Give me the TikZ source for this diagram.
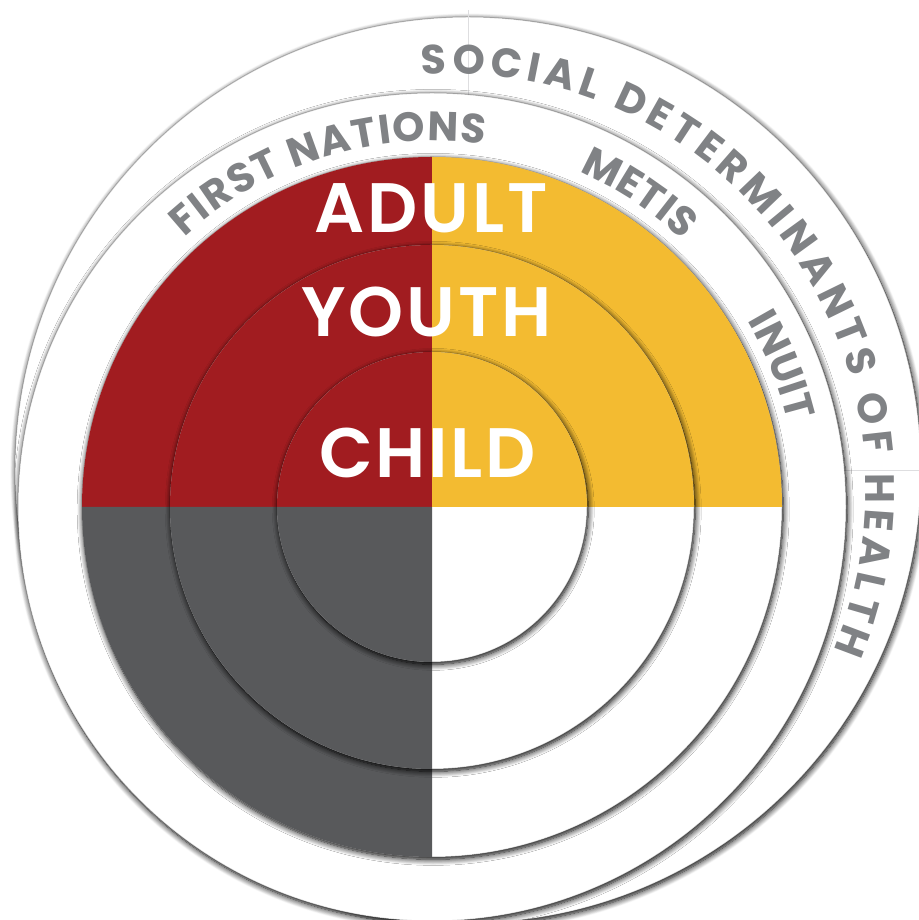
\documentclass[tikz,border=0pt]{standalone}
\usepackage{fontspec}
\setmainfont{Poppins}
\newfontfamily\semib{Poppins SemiBold}[LetterSpace=4]
\newfontfamily\boldp{Poppins Bold}
\usetikzlibrary{shadows.blur,decorations.text}
\definecolor{wred}{RGB}{161,28,32}
\definecolor{wyel}{RGB}{243,187,49}
\definecolor{wgray}{RGB}{88,89,91}
\definecolor{tgray}{RGB}{128,130,133}
\definecolor{seamc}{RGB}{222,222,224}
\tikzset{
  sh/.style={draw=black, draw opacity=0.22, line width=1pt, blur shadow={shadow xshift=1.2pt, shadow yshift=-2.4pt, shadow blur radius=6pt, shadow blur steps=10, shadow opacity=100}},
  lbl/.style={text=white, font=\semib\fontsize{70}{70}\selectfont, inner sep=0pt, anchor=base},
  curv/.style={decorate, decoration={text along path, text align={fit to path}, text color=tgray, text={|\boldp\fontsize{41}{41}\selectfont|#1}}},
}
\newcommand{\wheeldisc}[1]{%
  \path[fill=white, sh] (C) circle[radius=#1];
  \fill[wred] (C) -- ++(0,#1) arc[start angle=90, end angle=180, radius=#1] -- cycle;
  \fill[wyel] (C) -- ++(#1,0) arc[start angle=0, end angle=90, radius=#1] -- cycle;
  \fill[wgray] (C) -- ++(-#1,0) arc[start angle=180, end angle=270, radius=#1] -- cycle;
}
\begin{document}
\begin{tikzpicture}[x=1pt,y=1pt]
\useasboundingbox (0,0) rectangle (918,920);
\coordinate (R2) at (468,450);
\coordinate (C) at (432,413);
\coordinate (T) at (450,430);
% outer ring (social determinants)
\path[fill=white, sh] (R2) circle[radius=453pt];
\draw[seamc, line width=0.8pt] (R2) -- ++(0,460pt);
\draw[seamc, line width=0.8pt] (R2) -- ++(460pt,0);
% second ring (first nations / metis / inuit)
\path[fill=white, sh] (C) circle[radius=414pt];
% wheel
\wheeldisc{350pt}
\wheeldisc{262pt}
\wheeldisc{155pt}
% labels
\node[lbl] (adult) at (431,687) {ADULT};
\node[lbl] (youth) at (426.5,583) {YOUTH};
\node[lbl] (child) at (427.5,442) {CHILD};
% curved texts
\path[curv={FIRST NATIONS}] (C) ++(132.5:366pt) arc[start angle=132.5, end angle=81.7, radius=366pt];
\path[curv={METIS}] (C) ++(66.3:366pt) arc[start angle=66.3, end angle=46.9, radius=366pt];
\path[curv={INUIT}] (C) ++(30.6:366pt) arc[start angle=30.6, end angle=13.4, radius=366pt];
\path[curv={SOCIAL DETERMINANTS OF HEALTH}] (T) ++(93.9:416pt) arc[start angle=93.9, end angle=-22.7, radius=416pt];
\end{tikzpicture}
\end{document}
